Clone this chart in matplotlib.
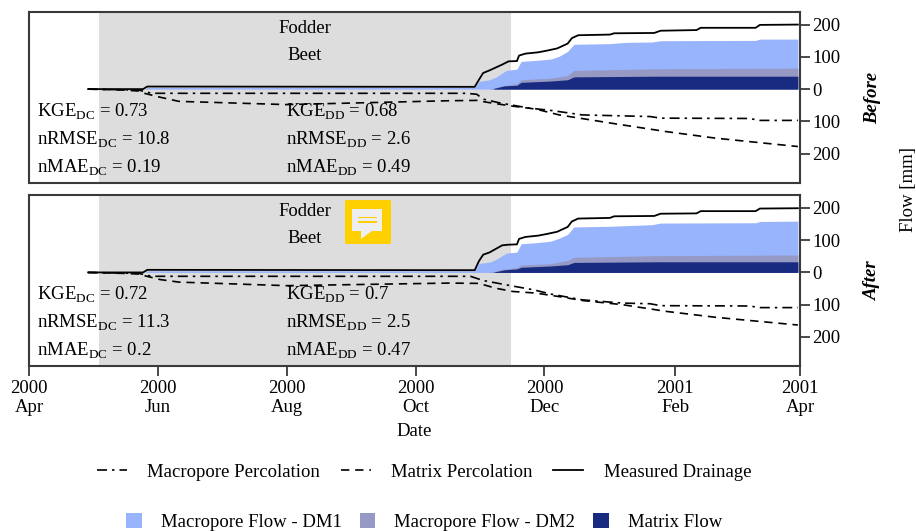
"""Cumulative drainage and percolation, before and after calibration."""

import matplotlib

matplotlib.use("Agg")
import matplotlib.pyplot as plt
import pandas as pd
from matplotlib.lines import Line2D
from matplotlib.patches import FancyBboxPatch, Patch, Polygon, Rectangle

plt.rcParams["font.family"] = ["Liberation Serif", "DejaVu Serif"]
plt.rcParams["mathtext.fontset"] = "custom"
plt.rcParams["mathtext.rm"] = "Liberation Serif"
plt.rcParams["font.size"] = 13.5

START = pd.Timestamp("2000-04-01")

# all series are days since START, values in mm
measured_days = [28, 54, 56, 211, 213, 215, 218, 221, 224, 227, 231, 232, 235, 241,
                 245, 250, 255, 257, 260, 275, 277, 296, 299, 316, 318, 344, 346, 364]
measured_before = [0, 0, 8, 7, 29, 50, 58, 67, 76, 86, 87, 104, 110, 114,
                   119, 126, 141, 158, 167, 169, 173, 174, 181, 183, 190, 190, 199, 200]
measured_after = [0, 0, 8, 7, 35, 55, 62, 73, 84, 86, 87, 104, 110, 114,
                  119, 126, 141, 158, 167, 169, 174, 175, 182, 183, 190, 190, 198, 199]

dm1_days_before = [55, 56, 211, 213, 218, 221, 226, 231, 233, 240, 247,
                   251, 255, 258, 275, 283, 295, 299, 344, 346, 364]
dm1_before = [0, 5, 5, 24, 29, 37, 58, 62, 86, 89, 93,
              102, 117, 139, 141, 145, 146, 150, 151, 155, 155]
dm1_days_after = [55, 56, 211, 213, 218, 221, 226, 231, 233, 240, 247,
                  251, 255, 258, 275, 295, 299, 344, 346, 364]
dm1_after = [0, 5, 5, 28, 32, 40, 60, 63, 89, 92, 97,
             106, 118, 141, 143, 148, 153, 154, 158, 159]

dm2_days = [218, 224, 231, 233, 247, 255, 258, 297, 364]
dm2_before = [0, 10, 17, 29, 34, 42, 58, 63, 65]
dm2_after = [0, 10, 15, 23, 27, 37, 47, 52, 54]

matrix_days = [220, 225, 231, 233, 247, 255, 258, 297, 364]
matrix_before = [2, 10, 12, 21, 25, 29, 38, 40, 40]
matrix_after = [1, 8, 11, 16, 20, 24, 31, 33, 33]

macro_days_before = [28, 52, 58, 207, 212, 215, 223, 237, 247, 262, 294, 299, 341, 346, 364]
macro_before = [0, -3, -13, -13, -16, -31, -43, -59, -66, -80, -85, -90, -91, -97, -97]
macro_days_after = [28, 52, 58, 209, 215, 228, 239, 247, 262, 281, 294, 299, 341, 346, 364]
macro_after = [0, -3, -12, -12, -25, -41, -54, -67, -85, -95, -97, -103, -104, -109, -109]

perc_days_before = [28, 45, 52, 54, 62, 71, 122, 199, 212, 217, 228, 240, 251, 278, 302, 325, 364]
perc_before = [0, -3, -6, -12, -25, -38, -48, -36, -35, -41, -52, -62, -80, -108, -132, -152, -178]
perc_days_after = [28, 45, 52, 54, 62, 71, 122, 199, 213, 221, 229, 240, 251, 262, 281, 302, 325, 364]
perc_after = [0, -3, -5, -9, -22, -30, -41, -33, -34, -49, -59, -64, -75, -87, -100, -121, -139, -163]

scores_before = ["0.73", "10.8", "0.19", "0.68", "2.6", "0.49"]
scores_after = ["0.72", "11.3", "0.2", "0.7", "2.5", "0.47"]
score_names = ["KGE", "nRMSE", "nMAE"]

crop_start, crop_end = "2000-05-04", "2000-11-15"
y_ticks = [-200, -100, 0, 100, 200]
x_ticks = ["2000-04-01", "2000-06-01", "2000-08-01", "2000-10-01", "2000-12-01", "2001-02-01", "2001-04-01"]
x_labels = ["2000\nApr", "2000\nJun", "2000\nAug", "2000\nOct", "2000\nDec", "2001\nFeb", "2001\nApr"]

C_DM1, C_DM2, C_MATRIX = "#98b4fc", "#9599c4", "#182b80"
C_SPINE = "#3a3a3a"
MACRO_DASH = (0, (6, 3, 1.5, 3))
MATRIX_DASH = (0, (5, 3.5))


def to_dates(days):
    return START + pd.to_timedelta(days, unit="D")


def draw_panel(ax, dm1_days, dm1, dm2, matrix, macro_days, macro, perc_days, perc,
               measured, scores, side_label):
    ax.axvspan(pd.Timestamp(crop_start), pd.Timestamp(crop_end), color="#dddddd", lw=0, zorder=0)
    ax.fill_between(to_dates(dm1_days), 0, dm1, color=C_DM1, lw=0, zorder=1)
    ax.fill_between(to_dates(dm2_days), 0, dm2, color=C_DM2, lw=0, zorder=2)
    ax.fill_between(to_dates(matrix_days), 0, matrix, color=C_MATRIX, lw=0, zorder=3)
    ax.plot(to_dates(macro_days), macro, color="k", lw=1.2, ls=MACRO_DASH, zorder=4)
    ax.plot(to_dates(perc_days), perc, color="k", lw=1.2, ls=MATRIX_DASH, zorder=4)
    ax.plot(to_dates(measured_days), measured, color="k", lw=1.3, zorder=5)

    ax.set_xlim(START, pd.Timestamp("2001-04-01"))
    ax.set_yticks(y_ticks)
    ax.set_yticklabels([str(abs(t)) for t in y_ticks])
    ax.yaxis.tick_right()
    ax.tick_params(axis="y", length=7, width=1.3, color=C_SPINE, pad=2)
    for spine in ax.spines.values():
        spine.set_linewidth(1.5)
        spine.set_color(C_SPINE)

    ax.text(0.358, 0.905, "Fodder", transform=ax.transAxes, ha="center", va="center")
    ax.text(0.358, 0.745, "Beet", transform=ax.transAxes, ha="center", va="center")

    rows = [0.418, 0.253, 0.088]
    for i, name in enumerate(score_names):
        ax.text(0.0105, rows[i], name + r"$_{\mathrm{DC}}$ = " + scores[i],
                transform=ax.transAxes, va="center", zorder=6)
        ax.text(0.3335, rows[i], name + r"$_{\mathrm{DD}}$ = " + scores[i + 3],
                transform=ax.transAxes, va="center", zorder=6)

    ax.text(1.0945, 0.5, side_label, transform=ax.transAxes, rotation=90, ha="center",
            va="center", fontweight="bold", fontstyle="italic")


fig = plt.figure(figsize=(9.16, 5.31), dpi=100)
W, H = 916.0, 531.0
ax_top = fig.add_axes([29 / W, 1 - 183 / H, 771 / W, 171 / H])
ax_bot = fig.add_axes([29 / W, 1 - 366 / H, 771 / W, 171 / H])

draw_panel(ax_top, dm1_days_before, dm1_before, dm2_before, matrix_before,
           macro_days_before, macro_before, perc_days_before, perc_before,
           measured_before, scores_before, "Before")
draw_panel(ax_bot, dm1_days_after, dm1_after, dm2_after, matrix_after,
           macro_days_after, macro_after, perc_days_after, perc_after,
           measured_after, scores_after, "After")

ax_top.set_ylim(-291, 239)
ax_bot.set_ylim(-290, 240)
ax_top.set_xticks([])

ax_bot.set_xticks(pd.to_datetime(x_ticks))
ax_bot.set_xticklabels(x_labels)
ax_bot.tick_params(axis="x", length=7, width=1.3, color=C_SPINE, pad=3)
ax_bot.set_xlabel("Date", labelpad=4.5)

fig.text(908 / W, 1 - 190 / H, "Flow [mm]", rotation=90, ha="center", va="center")

line_handles = [
    Line2D([], [], color="k", lw=1.2, ls=MACRO_DASH),
    Line2D([], [], color="k", lw=1.2, ls=MATRIX_DASH),
    Line2D([], [], color="k", lw=1.3),
]
fig.legend(line_handles, ["Macropore Percolation", "Matrix Percolation", "Measured Drainage"],
           ncol=3, frameon=False, loc="center", bbox_to_anchor=(424 / W, 1 - 472 / H),
           handlelength=1.6, handletextpad=1.1, columnspacing=1.1)

patch_handles = [Patch(color=C_DM1, lw=0), Patch(color=C_DM2, lw=0), Patch(color=C_MATRIX, lw=0)]
fig.legend(patch_handles, ["Macropore Flow - DM1", "Macropore Flow - DM2", "Matrix Flow"],
           ncol=3, frameon=False, loc="center", bbox_to_anchor=(424 / W, 1 - 522 / H),
           handlelength=0.85, handleheight=0.85, handletextpad=1.0, columnspacing=0.95)


# yellow comment badge sitting over the lower panel
def px(x, y):
    return x / W, 1 - y / H


x0, y1 = px(345, 245)
fig.add_artist(FancyBboxPatch((x0 + 0.002, y1 + 0.004), 46 / W - 0.004, 46 / H - 0.008,
                              boxstyle="round,pad=0.002", transform=fig.transFigure,
                              fc="#ffd000", ec="none", zorder=10))
fig.add_artist(Polygon([px(352, 209), px(382, 209), px(382, 231), px(372, 231),
                        px(361, 239), px(361, 231), px(352, 231)],
                       transform=fig.transFigure, fc="#eeeeee", ec="none", zorder=11))
for y_bar in (218, 223):
    bx, by = px(358, y_bar)
    fig.add_artist(Rectangle((bx, by), 19 / W, 1.5 / H, transform=fig.transFigure,
                             fc="#ffd000", ec="none", zorder=12))

fig.savefig("out.png", dpi=100)
plt.close(fig)
